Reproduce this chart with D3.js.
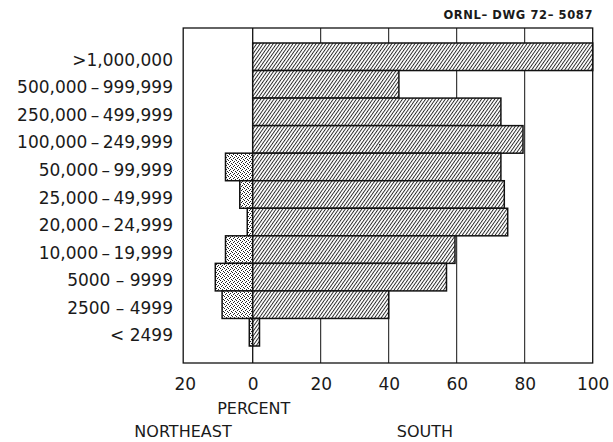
<!DOCTYPE html>
<html>
<head>
<meta charset="utf-8">
<script src="https://cdn.jsdelivr.net/npm/d3@7"></script>
<style>
  html, body { margin: 0; padding: 0; background: #fff; }
  svg { display: block; }
  text { font-family: "DejaVu Sans", sans-serif; fill: #1a1a1a; }
</style>
</head>
<body>
<svg id="chart" width="613" height="442"></svg>
<script>
const categories = [">1,000,000", "500,000\u2009–\u2009999,999", "250,000\u2009–\u2009499,999", "100,000\u2009–\u2009249,999",
  "50,000\u2009–\u200999,999", "25,000\u2009–\u200949,999", "20,000\u2009–\u200924,999", "10,000\u2009–\u200919,999",
  "5000 – 9999", "2500 – 4999", "< 2499"];
const south = [100, 43, 73, 79.5, 73, 74, 75, 59.5, 57, 40, 2];
const northeast = [0, 0, 0, 0, 8, 3.8, 1.6, 8, 11, 9, 1];
const tickValues = [-20, 0, 20, 40, 60, 80, 100];
const gridValues = [20, 40, 60, 80];

const svg = d3.select("#chart");
const x = d3.scaleLinear().domain([-20, 100]).range([184.7, 592.7]);
const y = d3.scaleBand().domain(categories).range([43, 346]).padding(0);
const frameTop = 28, frameBottom = 363;

const defs = svg.append("defs");
const hatch = defs.append("pattern").attr("id", "hatch")
  .attr("patternUnits", "userSpaceOnUse").attr("width", 2.7).attr("height", 10)
  .attr("patternTransform", "rotate(35)");
hatch.append("rect").attr("width", 2.7).attr("height", 10).attr("fill", "#fff");
hatch.append("line").attr("x1", 0.5).attr("x2", 0.5).attr("y1", 0).attr("y2", 10)
  .attr("stroke", "#111").attr("stroke-width", 0.9);

const dots = defs.append("pattern").attr("id", "dots")
  .attr("patternUnits", "userSpaceOnUse").attr("width", 4).attr("height", 4);
dots.append("rect").attr("width", 4).attr("height", 4).attr("fill", "#fff");
[[0,0],[2,1],[1,2],[3,3]].forEach(([a,b]) =>
  dots.append("rect").attr("x", a).attr("y", b).attr("width", 1).attr("height", 1).attr("fill", "#222"));

// frame
svg.append("rect").attr("x", x(-20) - 1.5).attr("y", frameTop)
  .attr("width", x(100) - x(-20) + 1.5).attr("height", frameBottom - frameTop)
  .attr("fill", "#fff").attr("stroke", "#111").attr("stroke-width", 1.3);

// gridlines
svg.append("g").selectAll("line").data(gridValues).join("line")
  .attr("x1", d => x(d)).attr("x2", d => x(d))
  .attr("y1", frameTop).attr("y2", frameBottom)
  .attr("stroke", "#111").attr("stroke-width", 1);

// zero line
svg.append("line").attr("x1", x(0)).attr("x2", x(0))
  .attr("y1", frameTop).attr("y2", frameBottom)
  .attr("stroke", "#111").attr("stroke-width", 1.3);

// northeast bars
svg.append("g").selectAll("rect").data(categories.map((c, i) => ({c, v: northeast[i]})).filter(d => d.v > 0))
  .join("rect")
  .attr("x", d => x(-d.v)).attr("y", d => y(d.c))
  .attr("width", d => x(0) - x(-d.v)).attr("height", y.bandwidth())
  .attr("fill", "url(#dots)").attr("stroke", "#111").attr("stroke-width", 1.5);

// south bars
svg.append("g").selectAll("rect").data(categories.map((c, i) => ({c, v: south[i]})))
  .join("rect")
  .attr("x", x(0)).attr("y", d => y(d.c))
  .attr("width", d => x(d.v) - x(0)).attr("height", y.bandwidth())
  .attr("fill", "url(#hatch)").attr("stroke", "#111").attr("stroke-width", 1.5);

// category labels
svg.append("g").selectAll("text").data(categories).join("text")
  .attr("x", 173).attr("y", d => y(d) + y.bandwidth() / 2 + 4)
  .attr("text-anchor", "end").attr("dominant-baseline", "middle")
  .attr("font-size", 17)
  .text(d => d);

// x axis tick labels
const axis = d3.axisBottom(x).tickValues(tickValues).tickSize(0).tickFormat(d => Math.abs(d));
const ag = svg.append("g").attr("transform", `translate(0, ${frameBottom + 12})`).call(axis);
ag.select(".domain").remove();
ag.selectAll("text").attr("font-size", 17).attr("font-family", "DejaVu Sans, sans-serif").attr("fill", "#1a1a1a");

svg.append("text").attr("x", x(0) + 1).attr("y", 414).attr("text-anchor", "middle")
  .attr("font-size", 16).text("PERCENT");
svg.append("text").attr("x", 183).attr("y", 437).attr("text-anchor", "middle")
  .attr("font-size", 16).text("NORTHEAST");
svg.append("text").attr("x", 425).attr("y", 437).attr("text-anchor", "middle")
  .attr("font-size", 16).text("SOUTH");
svg.append("text").attr("x", 593).attr("y", 19).attr("text-anchor", "end")
  .attr("font-size", 11.5).attr("font-weight", "bold").attr("letter-spacing", 0.6)
  .text("ORNL– DWG 72– 5087");
</script>
</body>
</html>
